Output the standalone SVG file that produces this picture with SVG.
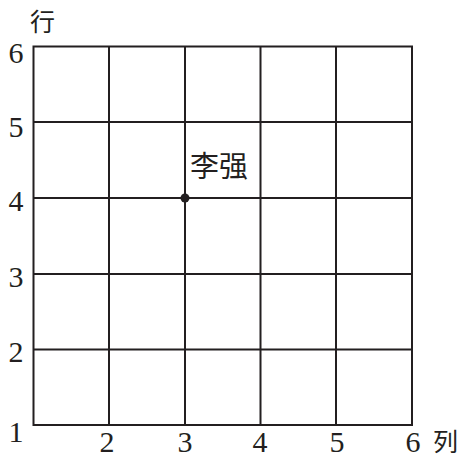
<svg xmlns="http://www.w3.org/2000/svg" width="464" height="456" viewBox="0 0 464 456">
<style>
.g{stroke:#231f20;stroke-width:2;fill:none}
</style>
<rect width="464" height="456" fill="#fff"/>
<g id="grid" class="g">
<rect x="33.5" y="46.5" width="378.5" height="378.5"/>
<path d="M109 46.5V425M185 46.5V425M260.5 46.5V425M336 46.5V425M33.5 122H412M33.5 198H412M33.5 274H412M33.5 349.5H412"/>
</g>
<g id="row-labels" font-family="Liberation Serif, DejaVu Serif, serif" font-size="30" fill="#231f20" text-anchor="middle">
<text x="16" y="63">6</text>
<text x="16" y="137">5</text>
<text x="16" y="211">4</text>
<text x="16" y="287">3</text>
<text x="16" y="362">2</text>
<text x="16" y="442">1</text>
</g>
<g id="col-labels" font-family="Liberation Serif, DejaVu Serif, serif" font-size="30" fill="#231f20" text-anchor="middle">
<text x="107" y="452">2</text>
<text x="185" y="452">3</text>
<text x="260" y="452">4</text>
<text x="337" y="452">5</text>
<text x="413" y="452">6</text>
</g>
<g font-family="Noto Sans CJK SC, sans-serif" fill="#231f20">
<text id="axis-y" x="30" y="31" font-size="25">行</text>
<text id="axis-x" x="433" y="451" font-size="25">列</text>
</g>
<g id="point">
<circle cx="185" cy="198" r="4.5" fill="#231f20"/>
<text x="190" y="177" font-size="29" font-family="Noto Sans CJK SC, sans-serif" fill="#231f20">李强</text>
</g>
</svg>
